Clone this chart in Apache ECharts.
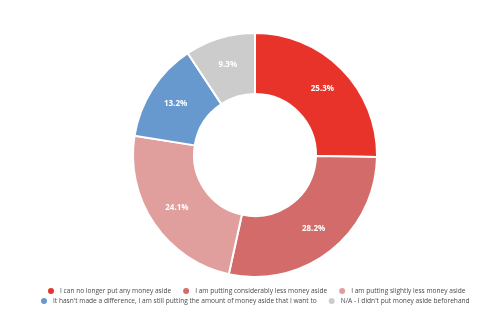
<!DOCTYPE html>
<html><head><meta charset="utf-8">
<script src="https://cdn.jsdelivr.net/npm/echarts@6/dist/echarts.min.js"></script>
<style>html,body{margin:0;padding:0;background:#fff}#c{width:490px;height:323px}</style>
</head><body><div id="c"></div>
<script>
const categories = [
  "I can no longer put any money aside",
  "I am putting considerably less money aside",
  "I am putting slightly less money aside",
  "It hasn't made a difference, I am still putting the amount of money aside that I want to",
  "N/A - I didn't put money aside beforehand"
];
const values = [25.3, 28.2, 24.1, 13.2, 9.3];
const colors = ["#E8332A", "#D36B6A", "#E09E9C", "#6799CF", "#CCCCCC"];
const legendRow1 = categories.slice(0, 3);
const legendRow2 = categories.slice(3);

const legendBase = {
  icon: 'circle',
  itemWidth: 8,
  itemHeight: 8,
  itemGap: 10,
  padding: 0,
  textStyle: {fontSize: 6.6, color: '#4a4a4a', fontFamily: 'Open Sans'}
};

const chart = echarts.init(document.getElementById('c'), null, {renderer: 'canvas'});
chart.setOption({
  animation: false,
  color: colors,
  legend: [
    Object.assign({}, legendBase, {top: 286, left: 46, data: legendRow1}),
    Object.assign({}, legendBase, {top: 296, left: 39, data: legendRow2})
  ],
  series: [{
    type: 'pie',
    center: [255, 155],
    radius: [61, 122],
    startAngle: 90,
    clockwise: true,
    itemStyle: {borderColor: '#fff', borderWidth: 2},
    label: {
      position: 'inside',
      color: '#fff',
      fontSize: 8,
      fontWeight: 'bold',
      fontFamily: 'Open Sans',
      formatter: p => p.value.toFixed(1) + '%'
    },
    labelLine: {show: false},
    data: categories.map((n, i) => ({name: n, value: values[i]}))
  }]
});
</script></body></html>
